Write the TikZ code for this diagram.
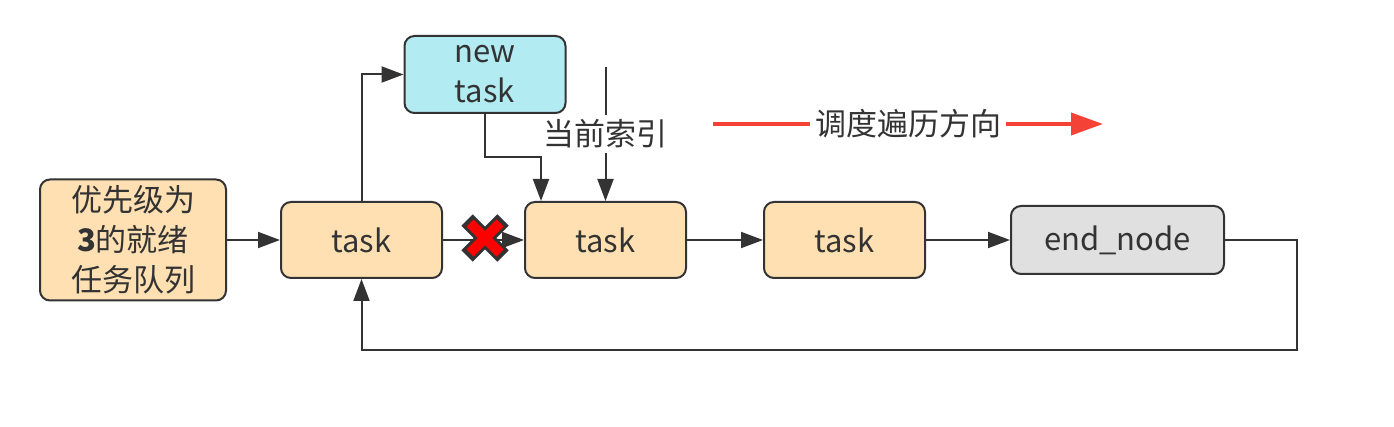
\documentclass[tikz,border=0pt]{standalone}
\usepackage{fontspec}
\setmainfont{Noto Sans CJK SC}
\usetikzlibrary{arrows.meta}
\definecolor{ln}{HTML}{333333}
\definecolor{org}{HTML}{FFE0B2}
\definecolor{cyn}{HTML}{B2EBF2}
\definecolor{gry}{HTML}{E0E0E0}
\definecolor{rd}{HTML}{F44336}
\begin{document}
\begin{tikzpicture}[x=1pt,y=-1pt,
  box/.style={draw=ln,line width=2pt,rounded corners=10pt,minimum width=161pt,minimum height=76pt,
    font=\fontsize{31}{40}\selectfont,text=ln,align=center,inner sep=0pt},
  conn/.style={draw=ln,line width=2pt,-{Triangle[length=22pt,width=16pt]}},
  lbl/.style={fill=white,text=ln,font=\fontsize{31}{36}\selectfont,inner sep=5pt},
]
\useasboundingbox (0,0) rectangle (1394,427);

\node[box,fill=org,minimum width=186pt,minimum height=121pt] (q) at (133,240) {优先级为\\{\bfseries 3}的就绪\\任务队列};
\node[box,fill=org] (t1) at (361.5,240) {task};
\node[box,fill=cyn,minimum height=77pt] (nt) at (485,74.5) {new\\task};
\node[box,fill=org] (t2) at (605.5,240) {task};
\node[box,fill=org] (t3) at (844.5,240) {task};
\node[box,fill=gry,minimum width=213pt,minimum height=68pt] (en) at (1117.5,240) {end\_node};

\draw[conn] (q) -- (t1);
\draw[conn] (t1) -- (t2);
\draw[conn] (t2) -- (t3);
\draw[conn] (t3) -- (en);
\draw[conn] (t1.north) |- (nt.west);

\coordinate (k1) at (541,157);
\draw[conn] (nt.south) |- (k1) -- (k1 |- t2.north);

\coordinate (idx) at (605.5,67);
\draw[conn] (idx) -- node[lbl] {当前索引} (idx |- t2.north);

\coordinate (lb) at (1297,350);
\draw[conn] (en.east) -| (lb) -- (lb -| t1.south) -- (t1.south);

% red cross
\draw[ln,line width=16pt] (467,220) -- (503,256) (467,256) -- (503,220);
\draw[red,line width=10pt] (470,223) -- (500,253) (470,253) -- (500,223);

% scheduling direction
\coordinate (ra) at (713,124);
\coordinate (rb) at (1103,124);
\draw[rd,line width=4pt,-{Triangle[length=32pt,width=22pt]}] (ra) -- node[lbl] {调度遍历方向} (rb);
\end{tikzpicture}
\end{document}
